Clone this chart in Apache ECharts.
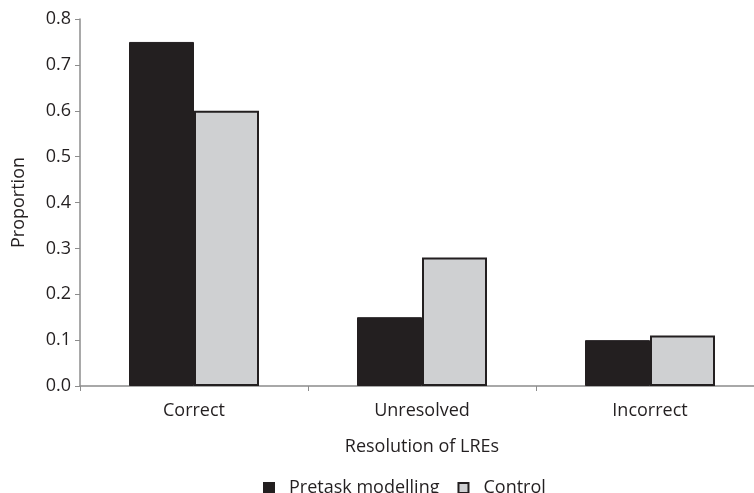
<!DOCTYPE html>
<html>
<head>
<meta charset="utf-8">
<script src="https://cdn.jsdelivr.net/npm/echarts@6/dist/echarts.min.js"></script>
<style>
  html, body { margin: 0; padding: 0; background: #fff; }
  #chart { width: 754px; height: 493px; }
</style>
</head>
<body>
<div id="chart"></div>
<script>
// categories and values
const categories = ["Correct", "Unresolved", "Incorrect"];
const pretaskValues = [0.75, 0.15, 0.10];
const controlValues = [0.60, 0.28, 0.11];

const textColor = "#231f20";
const fontFamily = "'Open Sans', 'Liberation Sans', sans-serif";

const chart = echarts.init(document.getElementById("chart"));

chart.setOption({
  animation: false,
  textStyle: { fontFamily: fontFamily, color: textColor },
  legend: {
    top: 474,
    left: 258,
    icon: "rect",
    itemWidth: 10,
    itemHeight: 10,
    itemGap: 18,
    textStyle: {
      fontSize: 18,
      color: textColor,
      fontFamily: fontFamily,
      padding: [0, 0, 0, 10],
    },
    data: ["Pretask modelling", "Control"],
  },
  grid: {
    left: 80,
    top: 19,
    width: 684,
    height: 367,
    containLabel: false,
    outerBoundsMode: "none",
  },
  xAxis: {
    type: "category",
    data: categories,
    name: "Resolution of LREs",
    nameLocation: "middle",
    nameGap: 52,
    nameTextStyle: { fontSize: 18, color: textColor },
    axisLine: { lineStyle: { color: "#8c8c8c", width: 1.5 } },
    axisTick: { show: true, length: 5, lineStyle: { color: "#8c8c8c" } },
    axisLabel: { fontSize: 18, color: textColor, margin: 16 },
  },
  yAxis: {
    type: "value",
    min: 0,
    max: 0.8,
    interval: 0.1,
    name: "Proportion",
    nameLocation: "middle",
    nameRotate: 90,
    nameGap: 52,
    nameTextStyle: { fontSize: 18, color: textColor },
    axisLine: { show: true, lineStyle: { color: "#8c8c8c", width: 1.5 } },
    axisTick: { show: true, length: 5, lineStyle: { color: "#8c8c8c" } },
    axisLabel: {
      fontSize: 18,
      color: textColor,
      margin: 9,
      formatter: (v) => v.toFixed(1),
    },
    splitLine: { show: false },
  },
  series: [
    {
      name: "Pretask modelling",
      type: "bar",
      data: pretaskValues,
      barWidth: 65,
      barGap: "0%",
      itemStyle: { color: "#231f20", borderColor: "#231f20", borderWidth: 1 },
    },
    {
      name: "Control",
      type: "bar",
      data: controlValues,
      barWidth: 65,
      itemStyle: { color: "#cfd0d2", borderColor: "#231f20", borderWidth: 2 },
    },
  ],
});
</script>
</body>
</html>
